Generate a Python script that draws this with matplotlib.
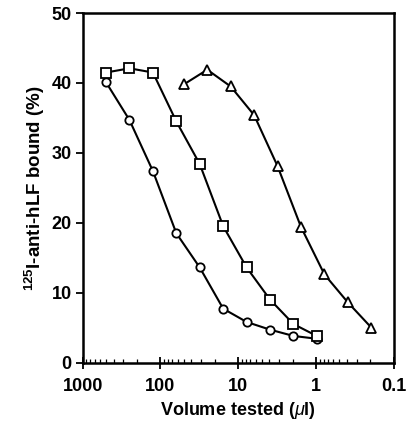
import matplotlib
matplotlib.use("Agg")
import matplotlib.pyplot as plt
from matplotlib.ticker import FixedLocator, LogLocator, NullFormatter

plt.rcParams['font.family'] = ['Liberation Sans', 'DejaVu Sans']
plt.rcParams['mathtext.fontset'] = 'custom'
plt.rcParams['mathtext.rm'] = 'Liberation Sans'
plt.rcParams['mathtext.it'] = 'Liberation Sans:italic'
plt.rcParams['mathtext.bf'] = 'Liberation Sans:bold'

# volumes tested (ul), twofold dilutions
circle_vol = [500, 250, 125, 62.5, 31.25, 15.6, 7.8, 3.9, 1.95, 0.98]
circle_bound = [40.1, 34.7, 27.4, 18.5, 13.6, 7.7, 5.8, 4.7, 3.8, 3.4]

square_vol = [500, 250, 125, 62.5, 31.25, 15.6, 7.8, 3.9, 1.95, 0.98]
square_bound = [41.5, 42.1, 41.5, 34.5, 28.4, 19.5, 13.6, 9.0, 5.5, 3.8]

triangle_vol = [50, 25, 12.5, 6.25, 3.125, 1.5625, 0.78, 0.39, 0.195]
triangle_bound = [39.8, 41.9, 39.5, 35.4, 28.1, 19.4, 12.6, 8.6, 5.0]

x_ticks = [1000, 100, 10, 1, 0.1]
x_labels = ["1000", "100", "10", "1", "0.1"]
y_ticks = [0, 10, 20, 30, 40, 50]

fig = plt.figure(figsize=(4.09, 4.23), dpi=100)
ax = fig.add_axes([0.202, 0.143, 0.761, 0.826])

style = dict(color="black", lw=1.5, mfc="white", mec="black", mew=1.3)
ax.plot(circle_vol, circle_bound, marker="o", ms=6, **style)
ax.plot(square_vol, square_bound, marker="s", ms=6.5, **style)
ax.plot(triangle_vol, triangle_bound, marker="^", ms=7.5, **style)

ax.set_xscale("log")
ax.set_xlim(1000, 0.1)
ax.set_ylim(0, 50)
ax.xaxis.set_major_locator(FixedLocator(x_ticks))
ax.set_xticklabels(x_labels)
ax.xaxis.set_minor_locator(LogLocator(base=10, subs=range(2, 10)))
ax.xaxis.set_minor_formatter(NullFormatter())
ax.set_yticks(y_ticks)

for s in ax.spines.values():
    s.set_linewidth(1.8)

ax.tick_params(axis="x", which="major", direction="inout", length=8, width=1.3,
               labelsize=13, pad=7)
ax.tick_params(axis="x", which="minor", direction="in", length=3, width=0.9)
ax.tick_params(axis="y", which="major", direction="out", length=5, width=1.3,
               labelsize=13, pad=3)
for lab in ax.get_xticklabels() + ax.get_yticklabels():
    lab.set_fontweight("bold")

ax.set_xlabel(r"Volume tested ($\mathit{\mu}$l)", fontsize=13, fontweight="bold",
              labelpad=4)
ax.set_ylabel(r"$\mathbf{^{125}}$I-anti-hLF bound (%)", fontsize=13.5,
              fontweight="bold", labelpad=3)

fig.savefig("out.png", dpi=100)
